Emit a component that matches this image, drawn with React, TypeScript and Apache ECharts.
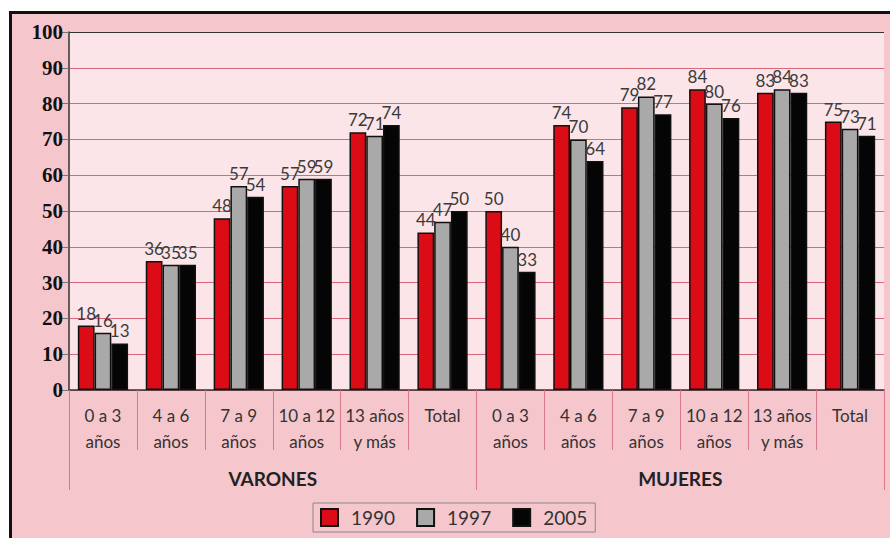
import React, { useEffect, useRef } from 'react';
import * as echarts from 'echarts';

const categories = [
  '0 a 3\naños', '4 a 6\naños', '7 a 9\naños', '10 a 12\naños', '13 años\ny más', 'Total',
  '0 a 3\naños', '4 a 6\naños', '7 a 9\naños', '10 a 12\naños', '13 años\ny más', 'Total',
];
const groups = ['VARONES', 'MUJERES'];
const years = ['1990', '1997', '2005'];
const s1990 = [18, 36, 48, 57, 72, 44, 50, 74, 79, 84, 83, 75];
const s1997 = [16, 35, 57, 59, 71, 47, 40, 70, 82, 80, 84, 73];
const s2005 = [13, 35, 54, 59, 74, 50, 33, 64, 77, 76, 83, 71];
const yTicks = [0, 100, 10];

export default function App() {
  const ref = useRef<HTMLDivElement>(null);
  useEffect(() => {
    document.body.style.margin = '0';
    const chart = echarts.init(ref.current!, null, { renderer: 'svg' });
    const colors = ['#dc0c16', '#a9a9a9', '#050505'];
    const seriesData = [s1990, s1997, s2005];
    const gridColors: string[] = [];
    for (let i = 0; i < 10; i++) gridColors.push('#d8687a');
    gridColors.push('#333333');
    chart.setOption({
      animation: false,
      grid: {
        left: 69, right: 6, top: 32, bottom: 148,
        show: true, backgroundColor: '#fce5e8', borderWidth: 0,
      },
      legend: {
        data: years,
        left: 313, top: 503,
        orient: 'horizontal',
        padding: [5, 8, 5, 7],
        itemWidth: 17, itemHeight: 17, itemGap: 21,
        icon: 'rect',
        borderColor: '#888', borderWidth: 1,
        textStyle: { fontSize: 19, fontFamily: 'Lato', color: '#333', padding: [0, 0, 0, 8] },
      },
      xAxis: [
        {
          type: 'category',
          data: categories,
          position: 'bottom',
          axisLine: { show: true, lineStyle: { color: '#333', width: 1.5 } },
          axisTick: { show: true, length: 60, lineStyle: { color: '#d8788a', width: 1 } },
          axisLabel: {
            interval: 0, margin: 12, fontSize: 17, lineHeight: 26,
            fontFamily: 'Lato', color: '#333',
          },
        },
        {
          type: 'category',
          data: groups,
          position: 'bottom',
          axisLine: { show: false },
          axisTick: { show: true, length: 100, lineStyle: { color: '#d8788a', width: 1 } },
          axisLabel: {
            interval: 0, margin: 79, fontSize: 19, fontWeight: 'bold',
            fontFamily: 'Lato', color: '#222',
          },
        },
      ],
      yAxis: {
        type: 'value',
        min: yTicks[0], max: yTicks[1], interval: yTicks[2],
        axisLine: { show: true, lineStyle: { color: '#333', width: 1.5 } },
        axisTick: { show: true, length: 10, lineStyle: { color: '#777' } },
        axisLabel: {
          margin: 6, fontSize: 21, fontWeight: 'bold',
          fontFamily: 'Liberation Serif', color: '#111',
        },
        splitLine: { show: true, lineStyle: { color: gridColors, width: 1 } },
      },
      series: years.map((y, i) => ({
        name: y,
        type: 'bar',
        xAxisIndex: 0,
        data: seriesData[i],
        barGap: '0%',
        barCategoryGap: '26%',
        itemStyle: { color: colors[i], borderColor: '#111', borderWidth: 1.5 },
        label: {
          show: true, position: 'top', distance: 4,
          fontSize: 17, fontFamily: 'Lato', color: '#3a3a3a',
        },
      })),
    });
    return () => chart.dispose();
  }, []);
  return (
    <div style={{ position: 'relative', width: 890, height: 538, overflow: 'hidden', background: '#fff' }}>
      <div style={{
        position: 'absolute', left: 9, top: 11, width: 900, height: 600,
        border: '3px solid #111', background: '#f5c7cd',
      }} />
      <div ref={ref} style={{ position: 'absolute', left: 0, top: 0, width: 890, height: 538 }} />
    </div>
  );
}
